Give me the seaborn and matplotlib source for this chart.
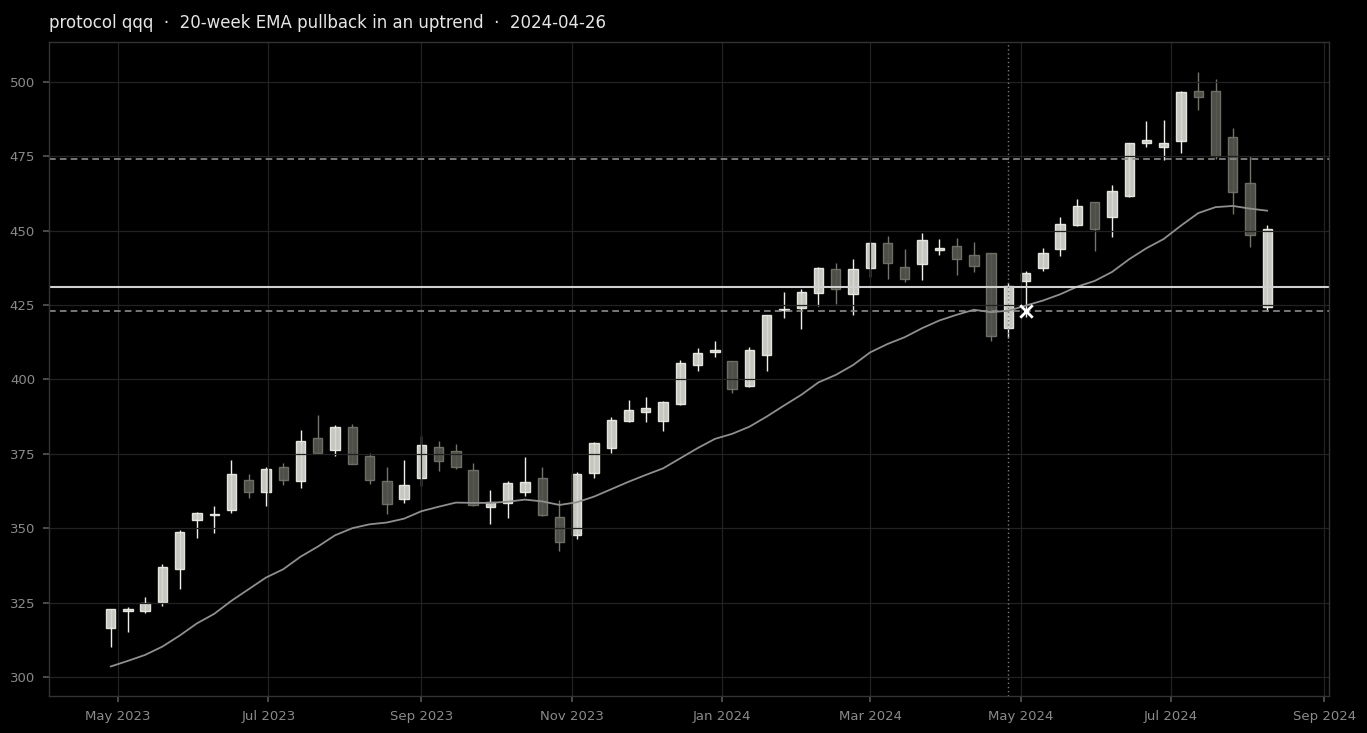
import numpy as np
import pandas as pd
import matplotlib
matplotlib.use("Agg")
import matplotlib.pyplot as plt
import matplotlib.dates as mdates
import seaborn as sns

# weekly candles (week ending Friday)
week_start = "2023-04-28"
n_weeks = 68

opens = [316.3, 322.0, 322.3, 325.3, 336.2, 352.6, 354.3, 356.0, 366.1, 362.1,
         370.5, 365.8, 380.2, 376.3, 383.9, 374.2, 365.8, 359.7, 366.8, 377.2,
         375.9, 369.6, 357.0, 358.4, 362.3, 366.8, 353.7, 347.8, 368.4, 376.9,
         385.9, 389.0, 385.9, 391.7, 404.8, 409.2, 406.1, 397.9, 408.1, 423.2,
         424.1, 429.0, 437.0, 428.6, 437.3, 445.7, 437.7, 438.7, 443.4, 445.0,
         441.7, 442.4, 417.2, 433.0, 437.3, 443.7, 451.8, 459.5, 454.5, 461.6,
         479.4, 478.0, 480.1, 496.8, 496.8, 481.4, 465.9, 424.5]
highs = [323.0, 323.6, 327.0, 338.1, 349.4, 355.6, 357.6, 372.8, 368.1, 370.5,
         371.8, 382.9, 387.9, 384.6, 384.9, 375.2, 370.5, 372.8, 380.9, 379.2,
         378.2, 371.8, 362.9, 365.8, 373.8, 370.4, 359.6, 369.0, 379.0, 387.5,
         393.0, 394.0, 392.6, 406.4, 410.5, 412.8, 406.3, 411.0, 421.8, 429.5,
         430.3, 437.7, 439.0, 440.3, 446.3, 448.2, 443.7, 449.1, 447.1, 447.4,
         446.1, 442.6, 432.3, 436.3, 444.1, 454.5, 460.5, 459.7, 465.5, 479.6,
         486.9, 487.2, 496.8, 503.3, 500.9, 484.4, 475.2, 451.8]
lows = [310.0, 315.0, 321.4, 323.9, 329.5, 346.6, 348.3, 355.0, 360.0, 357.6,
        364.4, 363.4, 375.2, 374.1, 371.5, 364.8, 354.6, 358.3, 364.1, 369.1,
        369.8, 357.5, 351.3, 353.3, 360.8, 354.2, 342.4, 346.4, 366.8, 375.2,
        385.6, 385.6, 382.6, 391.3, 402.7, 407.5, 395.3, 397.5, 402.7, 420.5,
        416.8, 424.8, 425.4, 421.5, 434.4, 433.6, 432.6, 433.3, 441.7, 435.0,
        436.0, 412.8, 413.8, 421.1, 436.3, 441.4, 451.6, 443.1, 447.7, 461.4,
        478.0, 473.8, 476.0, 490.4, 474.1, 455.5, 444.4, 423.1]
closes = [322.8, 323.0, 325.0, 336.8, 348.6, 355.0, 354.7, 368.1, 362.3, 369.8,
          366.1, 379.2, 375.4, 383.9, 371.7, 366.1, 358.0, 364.4, 377.9, 372.5,
          370.7, 357.7, 358.8, 365.1, 365.5, 354.5, 345.3, 368.1, 378.5, 386.2,
          389.6, 390.3, 392.3, 405.4, 408.8, 410.0, 396.7, 409.8, 421.5, 423.8,
          429.3, 437.3, 430.5, 437.0, 445.7, 439.0, 433.6, 446.7, 444.0, 440.3,
          438.0, 414.5, 431.3, 435.6, 442.4, 452.1, 458.2, 450.4, 463.2, 479.4,
          480.5, 479.4, 496.5, 494.8, 475.2, 462.9, 448.7, 450.4]
ema20 = [303.5, 305.4, 307.4, 310.2, 313.9, 318.0, 321.2, 325.6, 329.5, 333.4,
         336.2, 340.4, 343.8, 347.6, 350.0, 351.3, 351.9, 353.2, 355.7, 357.2,
         358.6, 358.5, 358.5, 358.9, 359.6, 359.0, 357.8, 358.7, 360.6, 363.1,
         365.6, 367.9, 370.1, 373.5, 376.9, 380.0, 381.7, 384.1, 387.5, 391.2,
         394.8, 399.0, 401.5, 404.8, 409.1, 411.9, 414.2, 417.2, 419.8, 421.7,
         423.4, 422.6, 423.1, 424.8, 426.5, 428.6, 431.2, 433.1, 436.1, 440.4,
         444.1, 447.2, 451.7, 455.9, 457.9, 458.3, 457.4, 456.7]

signal_date = "2024-04-26"
entry_level = 431.1
stop_level = 423.0
target_level = 474.1
fill_date = "2024-05-03"
fill_price = 423.1

df = pd.DataFrame({
    "date": pd.date_range(week_start, periods=n_weeks, freq="W-FRI"),
    "open": opens, "high": highs, "low": lows, "close": closes, "ema": ema20,
})
df["up"] = df["close"] >= df["open"]

sns.set_theme(style="dark")
plt.rcParams.update({
    "figure.facecolor": "black",
    "axes.facecolor": "black",
    "axes.edgecolor": "#333333",
    "axes.axisbelow": "line",
    "grid.color": "#222222",
    "grid.linewidth": 0.9,
    "xtick.color": "#8a8a8a",
    "ytick.color": "#8a8a8a",
    "xtick.bottom": True,
    "ytick.left": True,
    "font.family": ["DejaVu Sans"],
})

fig = plt.figure(figsize=(13.67, 7.33), dpi=100)
ax = fig.add_axes([0.0358, 0.0505, 0.9364, 0.8922])

up_fill, up_edge = "#d8d8d2", "#efefea"
dn_fill, dn_edge = "#56564f", "#74746c"

for is_up, fill, edge in [(True, up_fill, up_edge), (False, dn_fill, dn_edge)]:
    sub = df[df["up"] == is_up]
    ax.vlines(sub["date"], sub["low"], sub["high"], color=edge, lw=1.0, zorder=0.8)
    body_lo = np.minimum(sub["open"], sub["close"])
    body_h = np.maximum(np.abs(sub["close"] - sub["open"]), 0.6)
    ax.bar(sub["date"], body_h, bottom=body_lo, width=3.8, color=fill,
           edgecolor=edge, linewidth=1.0, alpha=0.92, zorder=1)

sns.lineplot(data=df, x="date", y="ema", ax=ax, color="#8f8f8f", lw=1.3, zorder=2)

ax.axhline(entry_level, color="#d0d0d0", lw=1.5, zorder=2)
ax.axhline(stop_level, color="#8c8c8c", lw=1.2, ls=(0, (4, 2.5)), zorder=2)
ax.axhline(target_level, color="#8c8c8c", lw=1.2, ls=(0, (4, 2.5)), zorder=2)
ax.axvline(pd.Timestamp(signal_date), color="#7a7a7a", lw=1.0, ls=(0, (1, 2)), zorder=2)
ax.scatter([pd.Timestamp(fill_date)], [fill_price], marker="x", s=80,
           color="white", linewidths=2, zorder=3)

ax.grid(True, which="major")
ax.set_xlim(pd.Timestamp("2023-04-03"), pd.Timestamp("2024-09-03"))
ax.set_ylim(293.6, 513.4)
ax.set_yticks([300, 325, 350, 375, 400, 425, 450, 475, 500])
ax.xaxis.set_major_locator(mdates.MonthLocator(bymonth=[1, 3, 5, 7, 9, 11]))
ax.xaxis.set_major_formatter(mdates.DateFormatter("%b %Y"))
ax.tick_params(axis="both", labelsize=9.5, length=4, color="#555555", pad=6)
ax.set_xlabel("")
ax.set_ylabel("")
for sp in ax.spines.values():
    sp.set_color("#333333")
    sp.set_linewidth(1.0)

ax.set_title("protocol qqq  \u00b7  20-week EMA pullback in an uptrend  \u00b7  2024-04-26",
             loc="left", color="#e6e6e6", fontsize=12, pad=10)

fig.savefig("out.png", dpi=100, facecolor="black")
